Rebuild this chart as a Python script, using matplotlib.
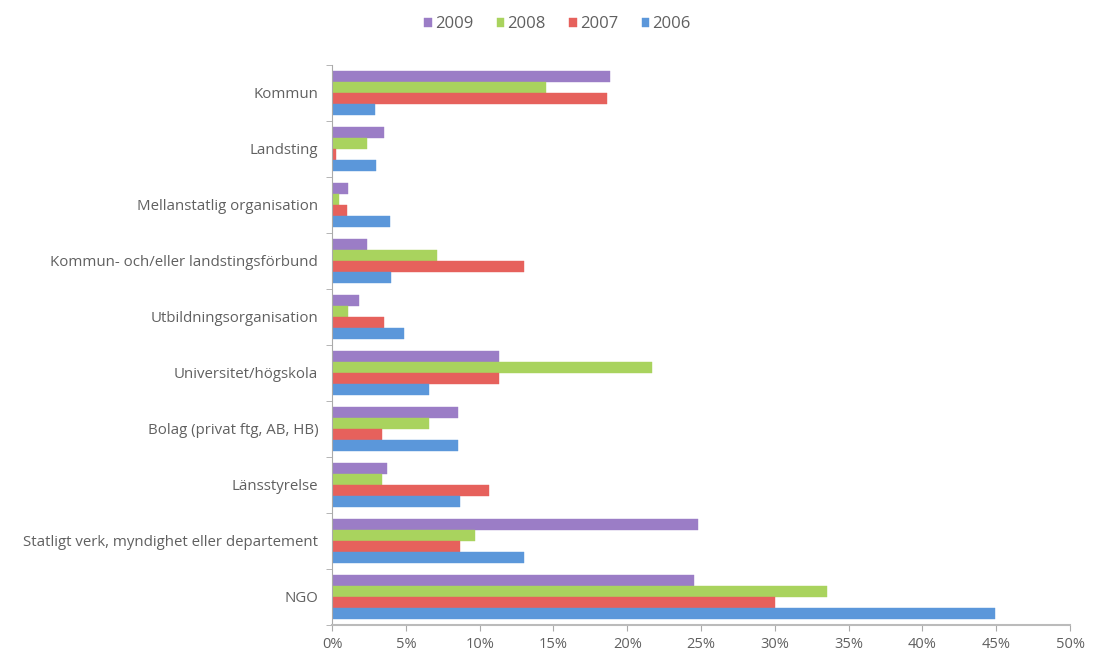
import matplotlib
matplotlib.use("Agg")
import matplotlib.pyplot as plt
import numpy as np
from matplotlib.ticker import FuncFormatter, FixedLocator

categories = ["Kommun", "Landsting", "Mellanstatlig organisation",
              "Kommun- och/eller landstingsförbund", "Utbildningsorganisation",
              "Universitet/högskola", "Bolag (privat ftg, AB, HB)", "Länsstyrelse",
              "Statligt verk, myndighet eller departement", "NGO"]
years = ["2009", "2008", "2007", "2006"]
v2009 = [18.8, 3.5, 1.1, 2.4, 1.8, 11.3, 8.5, 3.7, 24.8, 24.5]
v2008 = [14.5, 2.4, 0.5, 7.1, 1.1, 21.7, 6.6, 3.4, 9.7, 33.5]
v2007 = [18.6, 0.3, 1.0, 13.0, 3.5, 11.3, 3.4, 10.6, 8.7, 30.0]
v2006 = [2.9, 3.0, 3.9, 4.0, 4.9, 6.6, 8.5, 8.7, 13.0, 44.9]
series = [v2009, v2008, v2007, v2006]
colors = ["#9B7DC6", "#A9D35E", "#E6615C", "#5B97DA"]

plt.rcParams['font.family'] = ['Open Sans', 'DejaVu Sans']
fig = plt.figure(figsize=(10.93, 6.59), dpi=100)
ax = fig.add_axes([0.3038, 0.0516, 0.6752, 0.8498])

h = 0.2
y = np.arange(len(categories))
for k, (vals, col, yr) in enumerate(zip(series, colors, years)):
    ax.barh(y + (k - 1.5) * h, vals, height=h, color=col, label=yr,
            edgecolor=col, linewidth=0.3)

ax.set_ylim(len(categories) - 0.5, -0.5)
ax.set_xlim(0, 50)
ax.set_xticks(np.arange(0, 51, 5))
ax.xaxis.set_major_formatter(FuncFormatter(lambda v, p: f"{int(v)}%"))
ax.set_yticks(y)
ax.set_yticklabels(categories)
ax.yaxis.set_minor_locator(FixedLocator(np.arange(-0.5, len(categories), 1)))
ax.tick_params(axis='y', which='major', length=0, pad=10, labelsize=10.8, labelcolor='#606060')
ax.tick_params(axis='y', which='minor', length=4, color='#aaaaaa')
ax.tick_params(axis='x', length=4, color='#aaaaaa', labelsize=10.5, labelcolor='#606060', pad=5)
for s in ['top', 'right']:
    ax.spines[s].set_visible(False)
ax.spines['left'].set_color('#aaaaaa')
ax.spines['bottom'].set_color('#bbbbbb')
ax.spines['bottom'].set_linewidth(1.5)

handles, labels = ax.get_legend_handles_labels()
fig.legend(handles, labels, loc='center', bbox_to_anchor=(0.51, 0.963), ncol=4,
           frameon=False, fontsize=12, handlelength=0.45, handleheight=0.45,
           handletextpad=0.2, columnspacing=1.4, labelcolor='#606060')

fig.savefig("out.png", dpi=100)
